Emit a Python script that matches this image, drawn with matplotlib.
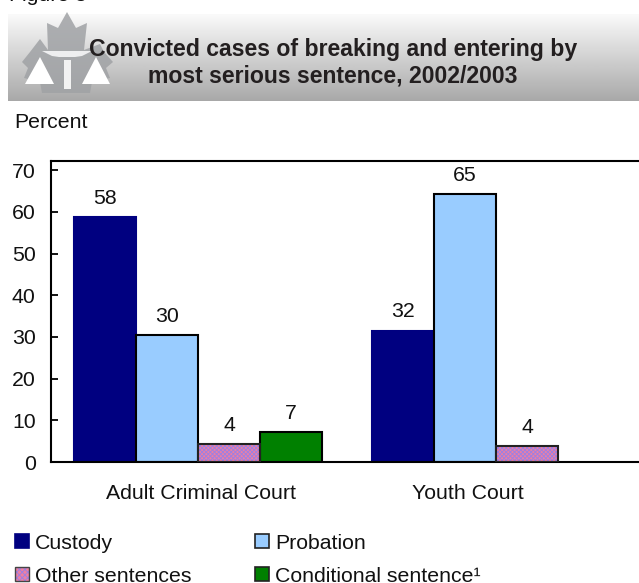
import numpy as np
import matplotlib
matplotlib.use("Agg")
import matplotlib.pyplot as plt
from matplotlib.patches import Polygon, Rectangle

plt.rcParams['font.family'] = ['Liberation Sans', 'DejaVu Sans']
plt.rcParams['hatch.linewidth'] = 0.7

courts = ["Adult Criminal Court", "Youth Court"]
custody = [58.8, 31.5]
probation = [30.5, 64.3]
other = [4.3, 3.8]
conditional = [7.2]
custody_labels = ["58", "32"]
probation_labels = ["30", "65"]
other_labels = ["4", "4"]
conditional_labels = ["7"]
yticks = [0, 10, 20, 30, 40, 50, 60, 70]
title = "Convicted cases of breaking and entering by\nmost serious sentence, 2002/2003"

W, H = 639, 583
FS = 15.3
fig = plt.figure(figsize=(W/100, H/100), dpi=100)

# page-level layer in pixel coordinates
bg = fig.add_axes([0, 0, 1, 1])
bg.set_xlim(0, W); bg.set_ylim(H, 0); bg.axis('off')
grad = np.linspace(0.98, 0.66, 256).reshape(-1, 1)
bg.imshow(grad, extent=[8, W, 101, 14], cmap='gray', vmin=0, vmax=1, aspect='auto', zorder=1)
bg.set_xlim(0, W); bg.set_ylim(H, 0)
leaf = [(67, 12), (76, 28), (87, 23), (84, 50), (100, 44), (104, 52), (113, 62), (106, 68), (110, 78),
        (92, 82), (90, 93), (42, 93), (40, 82), (24, 78), (28, 68), (22, 62), (30, 52), (40, 39),
        (48, 50), (47, 23), (58, 28)]
bg.add_patch(Polygon(leaf, closed=True, fc='#a0a2a5', ec='none', alpha=0.85, zorder=2))
bg.add_patch(Polygon([(42, 51), (92, 51), (82, 56), (75, 57), (59, 57), (52, 56)], closed=True,
                     fc='#eeeeef', ec='none', zorder=3))
bg.add_patch(Rectangle((64, 60), 7, 29, fc='#f2f2f2', ec='none', zorder=3))
bg.add_patch(Polygon([(40, 57), (54, 84), (25, 84)], closed=True, fc='white', ec='none', zorder=3))
bg.add_patch(Polygon([(96, 57), (110, 84), (82, 84)], closed=True, fc='white', ec='none', zorder=3))
bg.text(333, 63, title, ha='center', va='center', fontsize=16.6, fontweight='bold',
        color='#231f20', linespacing=1.22, zorder=4)
bg.text(9, 1, "Figure 5", ha='left', va='baseline', fontsize=FS, color='#111111', zorder=4)
bg.text(14, 123, "Percent", ha='left', va='center', fontsize=FS, color='#111111')

# chart
left, right, top, bottom = 51, W, 161, 462
ax = fig.add_axes([left/W, 1-bottom/H, (right-left)/W, (bottom-top)/H])
ax.patch.set_alpha(0)
px_per_unit = 62
ax.set_xlim(0, (right-left)/px_per_unit)
ax.set_ylim(0, (bottom-top)/4.17)

g = np.array([23, 321]) / px_per_unit  # left edge of each group
navy, sky, pink, green = '#000080', '#99ccff', '#f07fa0', '#008000'
lw = 1.5
ax.bar(g, custody, 1, align='edge', color=navy, edgecolor=navy, lw=lw, zorder=2)
ax.bar(g+1, probation, 1, align='edge', color=sky, edgecolor='black', lw=lw, zorder=2)
ax.bar(g+2, other, 1, align='edge', color=pink, edgecolor='#a080e0', hatch='xxxxxxxx', lw=0, zorder=2)
ax.bar(g+2, other, 1, align='edge', fill=False, edgecolor='#222222', lw=lw, zorder=3)
ax.bar(g[:1]+3, conditional, 1, align='edge', color=green, edgecolor='black', lw=lw, zorder=2)

def labels(xs, vals, texts):
    for x, v, t in zip(xs, vals, texts):
        ax.annotate(t, (x+0.5, v), xytext=(0, 9.5), textcoords='offset points',
                    ha='center', va='baseline', fontsize=FS, color='#111111', annotation_clip=False)
labels(g, custody, custody_labels)
labels(g+1, probation, probation_labels)
labels(g+2, other, other_labels)
labels(g[:1]+3, conditional, conditional_labels)

ax.set_yticks(yticks)
ax.tick_params(axis='y', direction='in', length=5, width=1.3, labelsize=FS, pad=11, labelcolor='#111111')
ax.set_xticks([(201-left)/px_per_unit, (468-left)/px_per_unit])
ax.set_xticklabels(courts, fontsize=FS, color='#111111')
ax.tick_params(axis='x', length=0, pad=15.5)
for s in ax.spines.values():
    s.set_linewidth(1.5); s.set_color('black')
ax.spines['right'].set_visible(False)

# legend
def key(x, y, color, text, hatch=None, edge='#222222'):
    bg.add_patch(Rectangle((x, y-15), 14, 14, fc=color, ec='#a080e0' if hatch else edge,
                           hatch=hatch, lw=0 if hatch else 1.2, zorder=5))
    if hatch:
        bg.add_patch(Rectangle((x, y-15), 14, 14, fill=False, ec='#444444', lw=1, zorder=6))
    bg.text(x+20, y, text, ha='left', va='baseline', fontsize=FS, color='#111111')
key(15, 549, navy, "Custody", edge=navy)
key(255, 549, sky, "Probation")
key(15, 582, pink, "Other sentences", hatch='xxxxxx')
key(255, 582, green, "Conditional sentence\u00b9")

fig.savefig("out.png", dpi=100)
